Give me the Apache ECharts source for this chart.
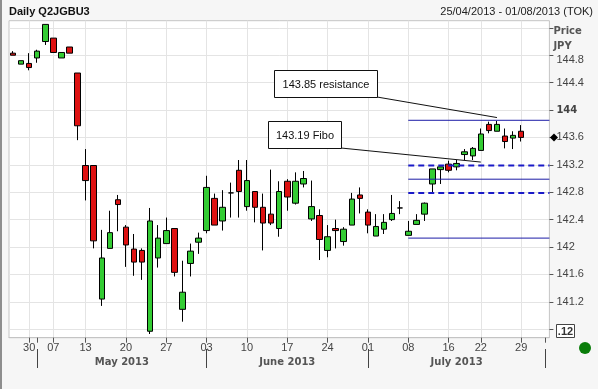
<!DOCTYPE html>
<html><head><meta charset="utf-8">
<script src="https://cdn.jsdelivr.net/npm/echarts@6/dist/echarts.min.js"></script>
<style>html,body{margin:0;padding:0;background:#f6f6f6}#c{width:598px;height:389px}</style>
</head><body><div id="c"></div>
<script>
// ---- data ----
const dates = [
 '2013-04-25','2013-04-26','2013-04-30',
 '2013-05-01','2013-05-02','2013-05-07','2013-05-08','2013-05-09','2013-05-10',
 '2013-05-13','2013-05-14','2013-05-15','2013-05-16','2013-05-17',
 '2013-05-20','2013-05-21','2013-05-22','2013-05-23','2013-05-24',
 '2013-05-27','2013-05-28','2013-05-29','2013-05-30','2013-05-31',
 '2013-06-03','2013-06-04','2013-06-05','2013-06-06','2013-06-07',
 '2013-06-10','2013-06-11','2013-06-12','2013-06-13','2013-06-14',
 '2013-06-17','2013-06-18','2013-06-19','2013-06-20','2013-06-21',
 '2013-06-24','2013-06-25','2013-06-26','2013-06-27','2013-06-28',
 '2013-07-01','2013-07-02','2013-07-03','2013-07-04','2013-07-05',
 '2013-07-08','2013-07-09','2013-07-10','2013-07-11','2013-07-12',
 '2013-07-16','2013-07-17','2013-07-18','2013-07-19',
 '2013-07-22','2013-07-23','2013-07-24','2013-07-25','2013-07-26',
 '2013-07-29','2013-07-30','2013-07-31','2013-08-01'
];
const opens  = [144.83,144.67,144.68,144.76,145.00,145.05,144.76,144.92,144.54,143.19,143.19,141.24,141.98,142.69,142.29,141.97,141.95,140.77,141.84,142.05,142.27,141.09,141.76,142.07,142.24,142.71,142.38,142.79,143.12,142.59,142.81,142.58,142.48,142.27,142.96,142.64,142.92,142.41,142.46,141.95,142.27,142.08,142.32,142.76,142.51,142.16,142.26,142.40,142.57,142.17,142.33,142.48,142.92,143.13,143.21,143.17,143.35,143.33,143.41,143.79,143.69,143.62,143.59,143.69];
const highs  = [144.86,144.72,144.83,144.88,145.25,145.05,144.84,144.92,144.54,143.43,143.19,142.25,142.53,142.76,142.32,142.19,141.98,142.57,142.32,142.43,142.27,141.80,142.05,142.21,143.04,142.78,142.83,142.94,143.27,143.27,142.81,142.78,143.13,142.96,142.99,143.09,143.11,142.97,142.55,142.32,142.40,142.29,142.79,142.87,142.55,142.48,142.48,142.76,142.67,142.38,142.48,142.65,143.14,143.17,143.26,143.27,143.43,143.46,143.73,143.83,143.84,143.73,143.69,143.78];
const lows   = [144.80,144.67,144.58,144.69,144.95,144.84,144.76,144.83,143.56,142.68,141.98,141.14,141.98,142.23,141.71,141.58,141.52,140.73,141.70,142.05,141.57,140.91,141.57,141.90,142.20,142.32,142.24,142.43,142.43,142.53,142.36,141.95,142.32,142.15,142.53,142.62,142.87,142.38,141.81,141.85,141.98,142.02,142.32,142.49,142.20,142.16,142.19,142.38,142.48,142.17,142.33,142.38,142.80,142.92,143.09,143.12,143.27,143.27,143.41,143.66,143.69,143.44,143.43,143.54];
const closes = [144.80,144.72,144.62,144.86,145.25,144.84,144.84,144.83,143.77,142.97,142.09,141.84,142.21,142.62,142.03,141.78,141.78,142.38,142.13,142.24,141.63,141.34,141.94,142.13,142.87,142.32,142.58,142.79,142.81,142.97,142.58,142.35,142.35,142.81,142.73,142.96,143.00,142.59,142.11,142.15,142.24,142.26,142.70,142.71,142.32,142.30,142.36,142.49,142.57,142.23,142.39,142.64,143.14,143.17,143.12,143.22,143.39,143.44,143.65,143.70,143.79,143.54,143.63,143.60];

const dayLabelDates = ['2013-04-30','2013-05-07','2013-05-13','2013-05-20','2013-05-27','2013-06-03','2013-06-10','2013-06-17','2013-06-24','2013-07-01','2013-07-08','2013-07-16','2013-07-22','2013-07-29'];
const monthStartDates = ['2013-05-01','2013-06-03','2013-07-01','2013-08-01'];
const monthLabelDates = ['2013-05-17','2013-06-17','2013-07-17'];
const monthLabels = ['May 2013','June 2013','July 2013'];

const yTickValues  = [140.8,141.2,141.6,142.0,142.4,142.8,143.2,143.6,144.0,144.4,144.8,145.2];
const yLabelValues = [141.2,141.6,142.0,142.4,142.8,143.2,143.6,144.0,144.4,144.8];

const levelValues = [143.85, 143.19, 142.99, 142.79, 142.13];
const levelDashed = [false, true, false, true, false];
const levelStartDate = '2013-07-08';

const noteTexts  = ['143.85 resistance', '143.19 Fibo'];
const noteDates  = ['2013-07-24', '2013-07-22'];
const noteValues = [143.89, 143.24];

const lastPrice = closes[closes.length - 1];

// ---- build ----
const ohlc = opens.map((o, i) => [o, closes[i], lows[i], highs[i]]);
const idxOf = d => dates.indexOf(d);
const labelIdx = new Set(dayLabelDates.map(idxOf));
const tickIdx = new Set(dayLabelDates.concat(monthStartDates).map(idxOf));
const monthStartIdx = new Set(monthStartDates.map(idxOf));
const monthLabelIdx = new Map(monthLabelDates.map((d, i) => [idxOf(d), i]));

const FONT = 'Liberation Sans';
const GL = 9, GR = 48.6, GT = 20.7, GB = 51.3;

const chart = echarts.init(document.getElementById('c'), null, {renderer: 'canvas'});
const option = {
  backgroundColor: '#f6f6f6',
  animation: false,
  title: [
    {text: 'Daily Q2JGBU3', left: 9, top: 6, padding: 0,
     textStyle: {fontFamily: FONT, fontWeight: 'bold', fontSize: 11, color: '#111'}},
    {text: '25/04/2013 - 01/08/2013 (TOK)', right: 5, top: 6, padding: 0,
     textStyle: {fontFamily: FONT, fontWeight: 'normal', fontSize: 11, color: '#222'}}
  ],
  grid: {left: GL, right: GR, top: GT, bottom: GB, show: true, backgroundColor: '#ffffff',
         borderColor: '#c4c4c4', borderWidth: 1},
  xAxis: [
    {type: 'category', data: dates, boundaryGap: true, position: 'bottom',
     axisLine: {show: true, lineStyle: {color: '#c4c4c4'}},
     axisTick: {show: true, alignWithLabel: true, length: 5, interval: i => tickIdx.has(i),
                lineStyle: {color: '#555'}},
     axisLabel: {interval: i => labelIdx.has(i), formatter: v => v.slice(8), margin: 5,
                 fontFamily: FONT, fontSize: 11, color: '#444'},
     splitLine: {show: true, alignWithLabel: true, interval: i => labelIdx.has(i),
                 lineStyle: {color: '#e4e4e4'}}},
    {type: 'category', data: dates, boundaryGap: true, position: 'bottom', offset: 11.3,
     axisLine: {show: false},
     axisTick: {show: true, alignWithLabel: true, length: 19, interval: i => monthStartIdx.has(i),
                lineStyle: {color: '#444'}},
     axisLabel: {interval: i => monthLabelIdx.has(i), margin: 8,
                 formatter: (v, i) => {
                   const k = monthLabelIdx.get(idxOf(v));
                   if (k === undefined) return '';
                   return k === 0 ? '{s|' + monthLabels[k] + '}' : monthLabels[k];
                 },
                 fontFamily: 'DejaVu Sans', fontWeight: 'bold', fontSize: 10, color: '#555',
                 rich: {s: {fontFamily: 'DejaVu Sans', fontWeight: 'bold', fontSize: 10, color: '#555',
                            padding: [0, 0, 0, 8]}}},
     splitLine: {show: false}}
  ],
  yAxis: {
    type: 'value', position: 'right', min: 140.676, max: 145.304,
    name: 'Price\nJPY', nameLocation: 'end', nameGap: -4,
    nameTextStyle: {align: 'left', verticalAlign: 'top', fontFamily: 'DejaVu Sans', fontWeight: 'bold',
                    fontSize: 10, color: '#555', lineHeight: 15, padding: [0, 0, 0, 4]},
    axisLine: {show: false},
    axisTick: {show: true, length: 4, customValues: yTickValues, lineStyle: {color: '#555'}},
    axisLabel: {customValues: yLabelValues, margin: 7, fontFamily: FONT, fontSize: 11, color: '#444',
      formatter: v => {
        const s = String(+(+v).toFixed(1));
        if (Math.abs(v - 144) < 1e-6) return '{b|' + s + '}';
        if (Math.abs(v - 144.8) < 1e-6) return '{t|' + s + '}';
        return s;
      },
      rich: {b: {fontFamily: 'DejaVu Sans', fontWeight: 'bold', fontSize: 10, color: '#444'},
             t: {fontFamily: FONT, fontSize: 11, color: '#444', padding: [9, 0, 0, 0]}}},
    splitLine: {show: true, lineStyle: {color: '#e4e4e4'}}
  },
  series: [{
    type: 'candlestick', data: ohlc, barWidth: 6, clip: false,
    itemStyle: {color: '#33cc33', color0: '#dd1111', borderColor: '#000', borderColor0: '#000',
                borderColorDoji: '#000', borderWidth: 1}
  }]
};
chart.setOption(option);

// ---- annotations (positions via the chart's own scales) ----
const P = (d, v) => chart.convertToPixel({xAxisIndex: 0, yAxisIndex: 0}, [d, v]);
const rightX = 598 - GR;
const g = [];
levelValues.forEach((v, i) => {
  const a = P(levelStartDate, v);
  g.push({type: 'line', z: 50, silent: true,
    shape: {x1: a[0], y1: a[1], x2: rightX, y2: a[1]},
    style: {stroke: levelDashed[i] ? '#1a1ac8' : '#1c1ca6', lineWidth: levelDashed[i] ? 2 : 1,
            lineDash: levelDashed[i] ? [6, 4] : null}});
});
const boxes = [{x: 274, y: 70, w: 103, h: 27}, {x: 268, y: 121, w: 73, h: 27}];
noteTexts.forEach((t, i) => {
  const b = boxes[i];
  const a = P(noteDates[i], noteValues[i]);
  g.push({type: 'line', z: 51, silent: true,
    shape: {x1: b.x + b.w, y1: b.y + b.h, x2: a[0], y2: a[1]},
    style: {stroke: '#111', lineWidth: 1}});
  g.push({type: 'rect', z: 52, silent: true,
    shape: {x: b.x + 0.5, y: b.y + 0.5, width: b.w, height: b.h},
    style: {fill: '#fff', stroke: '#111', lineWidth: 1}});
  g.push({type: 'text', z: 53, silent: true, x: b.x + b.w / 2 + 0.5, y: b.y + b.h / 2 + 1,
    style: {text: t, fontFamily: FONT, fontSize: 11, fill: '#111', align: 'center', verticalAlign: 'middle'}});
});
const lp = P(dates[closes.length - 1], lastPrice);
g.push({type: 'polygon', z: 60, silent: true,
  shape: {points: [[550, lp[1]], [554, lp[1] - 4], [558, lp[1]], [554, lp[1] + 4]]},
  style: {fill: '#000'}});
g.push({type: 'rect', z: 60, silent: true, shape: {x: 556.5, y: 324.5, width: 18, height: 13},
  style: {fill: '#fff', stroke: '#444', lineWidth: 1}});
g.push({type: 'text', z: 61, silent: true, x: 565.5, y: 331.5,
  style: {text: '.12', fontFamily: FONT, fontWeight: 'bold', fontSize: 11, fill: '#333', align: 'center', verticalAlign: 'middle'}});
g.push({type: 'circle', z: 60, silent: true, shape: {cx: 585, cy: 348, r: 6}, style: {fill: '#0a7d0a'}});
g.push({type: 'rect', z: 60, silent: true, shape: {x: 0, y: 0, width: 2, height: 389}, style: {fill: '#8e8e8e'}});
chart.setOption({graphic: g});
</script>
</body></html>
